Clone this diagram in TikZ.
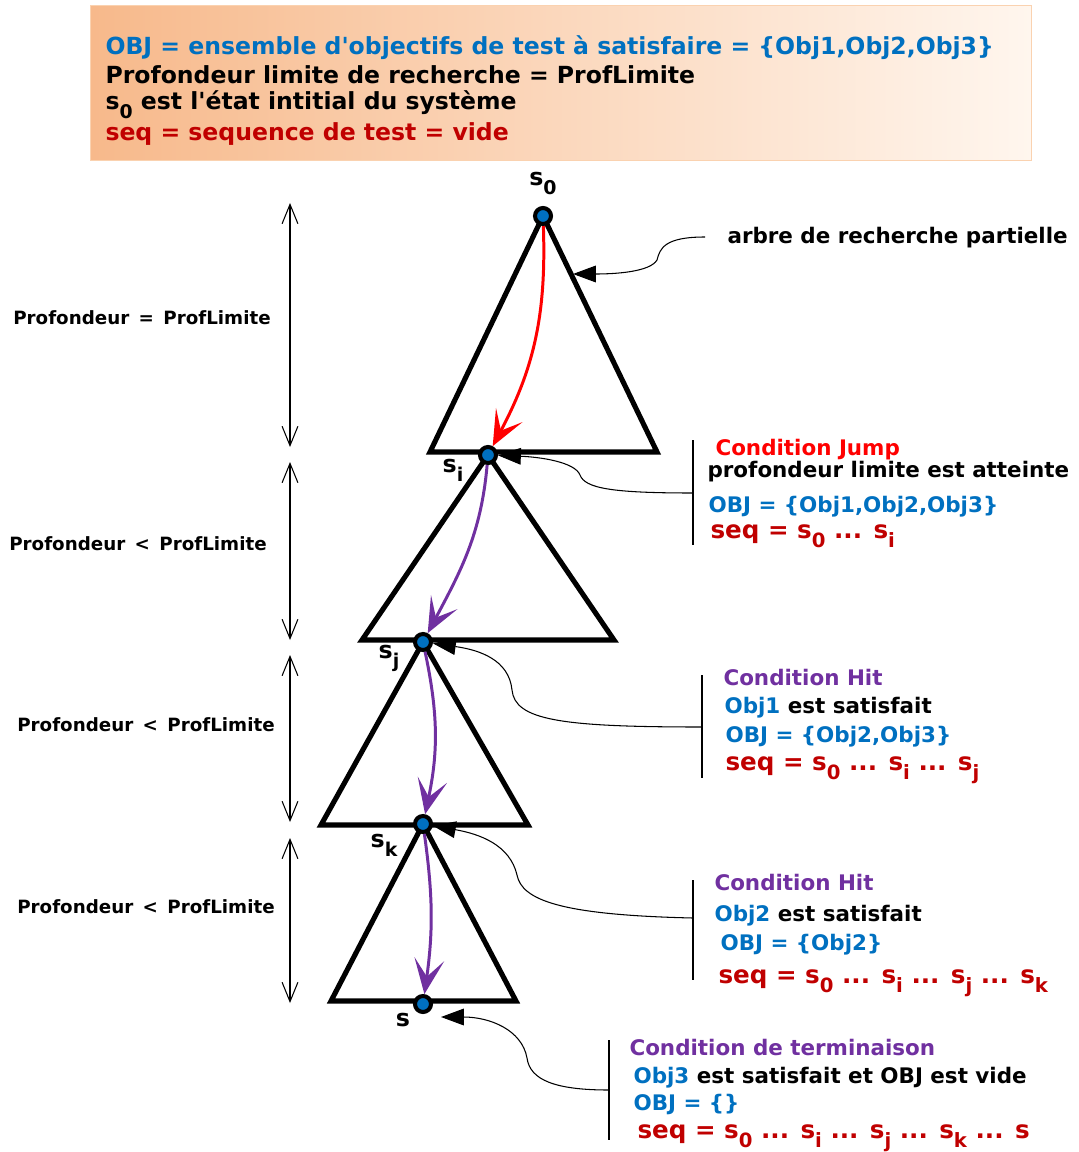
\documentclass[tikz,border=0pt]{standalone}
\usepackage{fontspec}
\setmainfont{DejaVu Sans}
\usetikzlibrary{arrows.meta, positioning, calc}
\definecolor{cblue}{HTML}{0070C0}
\definecolor{cdred}{HTML}{C00000}
\definecolor{cred}{HTML}{FF0000}
\definecolor{cpurple}{HTML}{7030A0}
\definecolor{chdrL}{HTML}{F7B98B}
\definecolor{chdrR}{HTML}{FFF6EE}
\definecolor{chdrB}{HTML}{FAD2B0}
\newcommand{\low}[1]{\raisebox{-0.38em}{\scalebox{0.8}{#1}}}
\tikzset{
  every picture/.style={font=\bfseries, line width=0.6pt},
  tri/.style={draw=black, line width=2.9pt, line join=miter},
  state/.style={circle, draw=black, fill=cblue, line width=2.3pt, minimum size=0.32cm, inner sep=0pt},
  slabel/.style={font=\bfseries\fontsize{13.5}{15}\selectfont, inner sep=0pt},
  walk/.style={draw=#1, line width=1.7pt, -{Stealth[length=20pt, width=17pt, inset=10pt]}},
  callout/.style={draw=black, line width=0.6pt, -{Triangle[length=13pt, width=9.5pt]}},
  depth/.style={draw=black, line width=0.6pt, {Straight Barb[length=11pt, width=9pt]}-{Straight Barb[length=11pt, width=9pt]}},
  hdr/.style={anchor=base west, inner sep=0pt, font=\bfseries\fontsize{13.4}{15}\selectfont},
  info/.style={anchor=base west, inner sep=0pt, font=\bfseries\fontsize{12.2}{14}\selectfont},
  seqline/.style={info, text=cdred, font=\bfseries\fontsize{14}{17}\selectfont},
  deplabel/.style={font=\bfseries\fontsize{10.4}{12}\selectfont, inner sep=0pt},
}

\begin{document}
\begin{tikzpicture}[x=0.02cm, y=-0.02cm]
  \useasboundingbox (0,0) rectangle (1078,1152);
  % header
  \node (header) [anchor=north west, minimum width=18.82cm, minimum height=3.1cm, left color=chdrL, right color=chdrR, draw=chdrB, line width=0.8pt, inner sep=0pt] at (90,5) {};
  \foreach \i/\y/\c/\txt in {
    1/55/cblue/{OBJ = ensemble d\textquotesingle objectifs de test à satisfaire = \{Obj1,Obj2,Obj3\}},
    2/84/black/{Profondeur limite de recherche = ProfLimite},
    3/110/black/{s\low{0} est l\textquotesingle état intitial du système},
    4/141/cdred/{seq = sequence de test = vide}} {
    \node[hdr, text=\c] (h\i) at (105,\y) {\txt};
  }
  % search trees
  \foreach \ax/\ay/\l/\r/\b in {543/216/430/657/452, 488/455/362/614/640, 423/642/321/528/825, 423/824/331/516/1001}
    \draw[tri] (\ax,\ay) -- (\l,\b) -- (\r,\b) -- cycle;
  \node[state] (s0) at (543,216) {};
  \node[state] (si) at (488,455) {};
  \node[state] (sj) at (423,642) {};
  \node[state] (sk) at (423,824) {};
  \node[state] (s) at (423,1004) {};
  \node[slabel] (ls0) at (543,183) {s\low{0}};
  \node[slabel] (lsi) at (453,470) {s\low{i}};
  \node[slabel] (lsj) at (389,658) {s\low{j}};
  \node[slabel] (lsk) at (384,845) {s\low{k}};
  \node[slabel] (ls) at (403,1020) {s};
  \draw[walk=cred] (s0) to[out=-88, in=62] (si);
  \draw[walk=cpurple] (si) to[out=-95, in=62] (sj);
  \draw[walk=cpurple] (sj) to[out=-78, in=78] (sk);
  \draw[walk=cpurple] (sk) to[out=-82, in=82] (s);
  % depth ranges
  \foreach \i/\t/\b/\x/\y/\rel in {1/203/447/142/318/=, 2/462/640/138/544/<, 3/655/822/146/725/<, 4/838/1003/146/907/<} {
    \coordinate (dt\i) at (290,\t);
    \coordinate (db\i) at (290,\b);
    \draw[depth] (dt\i) -- (db\i);
    \node[deplabel] (d\i) at (\x,\y) {Profondeur \,\rel\, ProfLimite};
  }
  % brackets
  \foreach \i/\x/\t/\b/\m in {1/693/440/545/493, 2/702/675/778/727, 3/693/880/980/918, 4/609/1040/1140/1090} {
    \draw (\x,\t) -- (\x,\b);
    \coordinate (b\i) at (\x,\m);
  }
  % tree label
  \node[info] (treelbl) at (727,243) {arbre de recherche partielle};
  \coordinate (c0) at (705,237);
  \coordinate (treeside) at (573,274);
  \coordinate (send) at (441,1017);
  \draw[callout] (c0) .. controls (665,237) and (660,248) .. (657,260) .. controls (650,272) and (615,274) .. (treeside);
  \draw[callout] (b1) .. controls (610,493) and (585,488) .. (580,475) .. controls (575,462) and (540,457) .. (si);
  \draw[callout] (b2) .. controls (560,727) and (515,720) .. (512,690) .. controls (509,660) and (480,650) .. (sj);
  \draw[callout] (b3) .. controls (560,915) and (522,900) .. (517,875) .. controls (510,845) and (480,834) .. (sk);
  \draw[callout] (b4) .. controls (555,1090) and (530,1080) .. (527,1058) .. controls (522,1030) and (490,1017) .. (send);
  % conditions
  \node[info, text=cred] (j1) at (715,455) {Condition Jump};
  \node[info] (j2) at (707,477) {profondeur limite est atteinte};
  \node[info, text=cblue] (j3) at (708,512) {OBJ = \{Obj1,Obj2,Obj3\}};
  \node[seqline] (j4) at (710,538) {seq = s\low{0} ... s\low{i}};
  \node[info, text=cpurple] (h1a) at (723,685) {Condition Hit};
  \node[info] (h1b) at (724,713) {\textcolor{cblue}{Obj1} est satisfait};
  \node[info, text=cblue] (h1c) at (725,742) {OBJ = \{Obj2,Obj3\}};
  \node[seqline] (h1d) at (725,770) {seq = s\low{0} ... s\low{i} ... s\low{j}};
  \node[info, text=cpurple] (h2a) at (714,890) {Condition Hit};
  \node[info] (h2b) at (714,921) {\textcolor{cblue}{Obj2} est satisfait};
  \node[info, text=cblue] (h2c) at (720,950) {OBJ = \{Obj2\}};
  \node[seqline] (h2d) at (718,983) {seq = s\low{0} ... s\low{i} ... s\low{j} ... s\low{k}};
  \node[info, text=cpurple] (t1) at (629,1055) {Condition de terminaison};
  \node[info] (t2) at (633,1083) {\textcolor{cblue}{Obj3} est satisfait et OBJ est vide};
  \node[info, text=cblue] (t3) at (633,1110) {OBJ = \{\}};
  \node[seqline] (t4) at (637,1138) {seq = s\low{0} ... s\low{i} ... s\low{j} ... s\low{k} ... s};
\end{tikzpicture}
\end{document}
